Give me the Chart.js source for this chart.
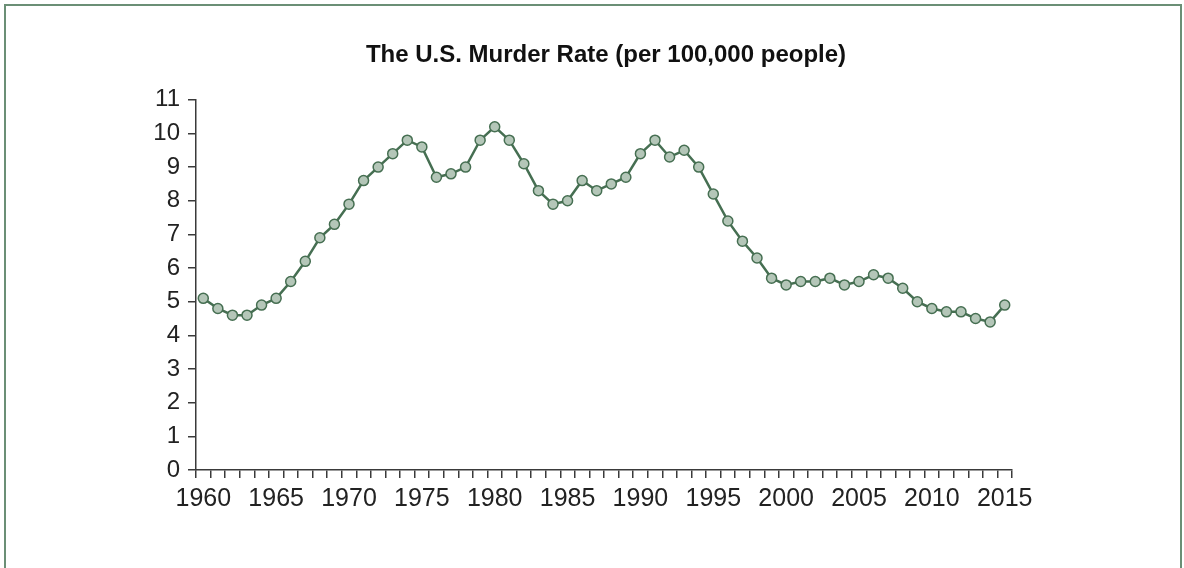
<!DOCTYPE html>
<html>
<head>
<meta charset="utf-8">
<script src="https://cdn.jsdelivr.net/npm/chart.js@4"></script>
<style>
  html, body { margin: 0; padding: 0; background: #fff; overflow: hidden; }
  #frame { position: absolute; left: 4px; top: 4px; width: 1174px; height: 640px; border: 2px solid #6b8f76; }
  #wrap { position: absolute; left: 0; top: 0; width: 1184px; height: 568px; }
</style>
</head>
<body>
<div id="frame"></div>
<div id="wrap"><canvas id="c" width="1184" height="568"></canvas></div>
<script>
// years 1960..2015
const years = [
  1960, 1961, 1962, 1963, 1964, 1965, 1966, 1967, 1968, 1969,
  1970, 1971, 1972, 1973, 1974, 1975, 1976, 1977, 1978, 1979,
  1980, 1981, 1982, 1983, 1984, 1985, 1986, 1987, 1988, 1989,
  1990, 1991, 1992, 1993, 1994, 1995, 1996, 1997, 1998, 1999,
  2000, 2001, 2002, 2003, 2004, 2005, 2006, 2007, 2008, 2009,
  2010, 2011, 2012, 2013, 2014, 2015
];
const murderRate = [
  5.1, 4.8, 4.6, 4.6, 4.9, 5.1, 5.6, 6.2, 6.9, 7.3,
  7.9, 8.6, 9.0, 9.4, 9.8, 9.6, 8.7, 8.8, 9.0, 9.8,
  10.2, 9.8, 9.1, 8.3, 7.9, 8.0, 8.6, 8.3, 8.5, 8.7,
  9.4, 9.8, 9.3, 9.5, 9.0, 8.2, 7.4, 6.8, 6.3, 5.7,
  5.5, 5.6, 5.6, 5.7, 5.5, 5.6, 5.8, 5.7, 5.4, 5.0,
  4.8, 4.7, 4.7, 4.5, 4.4, 4.9
];
const yTicks = [0, 1, 2, 3, 4, 5, 6, 7, 8, 9, 10, 11];

const axisColor = '#3a3a3a';
const textColor = '#222';

new Chart(document.getElementById('c'), {
  type: 'line',
  data: {
    labels: years,
    datasets: [{
      data: murderRate,
      borderColor: '#466f52',
      borderWidth: 2.5,
      backgroundColor: '#b4c6b8',
      pointBackgroundColor: '#b4c6b8',
      pointBorderColor: '#466f52',
      pointBorderWidth: 1.5,
      pointRadius: 5,
      tension: 0,
      fill: false
    }]
  },
  options: {
    responsive: false,
    animation: false,
    events: [],
    layout: { padding: { left: 28, top: 0, right: 0, bottom: 0 } },
    plugins: {
      legend: { display: false },
      tooltip: { enabled: false },
      title: {
        display: true,
        text: 'The U.S. Murder Rate (per 100,000 people)',
        color: '#111',
        font: { family: 'Liberation Sans, Arial, sans-serif', size: 24, weight: 'bold', lineHeight: 1.2 },
        padding: { top: 41, bottom: 30 }
      }
    },
    scales: {
      x: {
        type: 'category',
        offset: true,
        grid: { offset: true, drawOnChartArea: false, drawTicks: true, tickLength: 8, color: axisColor, lineWidth: 1.5 },
        border: { display: true, color: axisColor, width: 1.5 },
        ticks: {
          autoSkip: false,
          maxRotation: 0,
          minRotation: 0,
          padding: 6,
          color: textColor,
          font: { family: 'Liberation Sans, Arial, sans-serif', size: 25 },
          callback: function (v, i) {
            const y = years[i];
            return y % 5 === 0 ? String(y) : '';
          }
        },
        afterFit: function (s) { s.height = 98; }
      },
      y: {
        min: 0,
        max: 11,
        afterBuildTicks: function (s) { s.ticks = yTicks.map(v => ({ value: v })); },
        grid: { drawOnChartArea: false, drawTicks: true, tickLength: 8, color: axisColor, lineWidth: 1.5 },
        border: { display: true, color: axisColor, width: 1.5 },
        ticks: {
          padding: 8,
          color: textColor,
          font: { family: 'Liberation Sans, Arial, sans-serif', size: 24 }
        },
        afterFit: function (s) { s.width = 168; }
      },
      spacer: {
        position: 'right',
        display: true,
        grid: { display: false },
        border: { display: false },
        ticks: { display: false },
        afterFit: function (s) { s.width = 172; }
      }
    }
  }
});
</script>
</body>
</html>
